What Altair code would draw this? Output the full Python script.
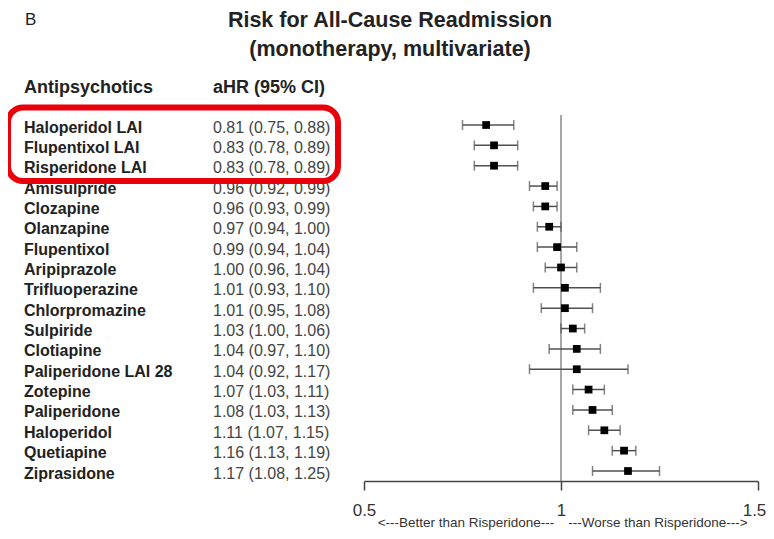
import altair as alt
import pandas as pd

# ---- data ----
drugs = ["Haloperidol LAI", "Flupentixol LAI", "Risperidone LAI", "Amisulpride",
         "Clozapine", "Olanzapine", "Flupentixol", "Aripiprazole", "Trifluoperazine",
         "Chlorpromazine", "Sulpiride", "Clotiapine", "Paliperidone LAI 28", "Zotepine",
         "Paliperidone", "Haloperidol", "Quetiapine", "Ziprasidone"]
ahr = [0.81, 0.83, 0.83, 0.96, 0.96, 0.97, 0.99, 1.00, 1.01,
       1.01, 1.03, 1.04, 1.04, 1.07, 1.08, 1.11, 1.16, 1.17]
lower = [0.75, 0.78, 0.78, 0.92, 0.93, 0.94, 0.94, 0.96, 0.93,
         0.95, 1.00, 0.97, 0.92, 1.03, 1.03, 1.07, 1.13, 1.08]
upper = [0.88, 0.89, 0.89, 0.99, 0.99, 1.00, 1.04, 1.04, 1.10,
         1.08, 1.06, 1.10, 1.17, 1.11, 1.13, 1.15, 1.19, 1.25]
highlighted = ["Haloperidol LAI", "Flupentixol LAI", "Risperidone LAI"]
x_ticks = [0.5, 1, 1.5]
reference_value = 1

title_lines = ["Risk for All-Cause Readmission", "(monotherapy, multivariate)"]
panel_label = "B"
col_headers = ["Antipsychotics", "aHR (95% CI)"]
bottom_left = "<---Better than Risperidone---"
bottom_right = "---Worse than Risperidone--->"

FONT = "Liberation Sans"

df = pd.DataFrame({
    "drug": drugs,
    "idx": list(range(len(drugs))),
    "ahr": ahr,
    "lower": lower,
    "upper": upper,
})
df["label"] = [f"{a:.2f} ({l:.2f}, {u:.2f})" for a, l, u in zip(ahr, lower, upper)]

yscale = alt.Scale(domain=[0, len(drugs) - 1], range=[117, 463])
xscale = alt.Scale(domain=[x_ticks[0], x_ticks[-1]], range=[344, 738], zero=False, nice=False)

base = alt.Chart(df)

xaxis = alt.Axis(values=x_ticks, format="~g", title=None, grid=False,
                 tickSize=9, tickWidth=1.5, tickColor="#444",
                 domainColor="#444", domainWidth=1.5,
                 labelFontSize=17, labelColor="#333", labelFont=FONT,
                 labelPadding=12, labelFlush=False,
                 labelOffset={"condition": {"test": f"datum.value === {x_ticks[-1]}", "value": -4},
                              "value": 0})

vline = alt.Chart(pd.DataFrame({"v": [reference_value]})).mark_rule(
    color="#8a8a8a", strokeWidth=1.5
).encode(x=alt.X("v:Q", scale=xscale, axis=xaxis), y=alt.value(107), y2=alt.value(473))

err = base.mark_rule(color="#505050", strokeWidth=1.5).encode(
    x=alt.X("lower:Q", scale=xscale, axis=xaxis),
    x2="upper:Q",
    y=alt.Y("idx:Q", scale=yscale, axis=None),
)
cap_lo = base.mark_tick(orient="vertical", size=10, thickness=1.5, color="#505050").encode(
    x=alt.X("lower:Q", scale=xscale), y=alt.Y("idx:Q", scale=yscale, axis=None))
cap_hi = base.mark_tick(orient="vertical", size=10, thickness=1.5, color="#505050").encode(
    x=alt.X("upper:Q", scale=xscale), y=alt.Y("idx:Q", scale=yscale, axis=None))
pts = base.mark_square(size=60, color="black", opacity=1).encode(
    x=alt.X("ahr:Q", scale=xscale), y=alt.Y("idx:Q", scale=yscale, axis=None))

names = base.mark_text(align="left", baseline="middle", font=FONT, fontSize=16,
                       fontWeight="bold", color="#222", dy=2.5).encode(
    x=alt.value(4), y=alt.Y("idx:Q", scale=yscale, axis=None), text="drug:N")
vals = base.mark_text(align="left", baseline="middle", font=FONT, fontSize=16,
                      color="#444", dy=2.5).encode(
    x=alt.value(193), y=alt.Y("idx:Q", scale=yscale, axis=None), text="label:N")

one = pd.DataFrame({"k": [0]})
hdr1 = alt.Chart(one).mark_text(text=col_headers[0], align="left", baseline="middle",
                                font=FONT, fontSize=18, fontWeight="bold", color="#222").encode(
    x=alt.value(4), y=alt.value(80))
hdr2 = alt.Chart(one).mark_text(text=col_headers[1], align="left", baseline="middle",
                                font=FONT, fontSize=18, fontWeight="bold", color="#222").encode(
    x=alt.value(193), y=alt.value(80))
t1 = alt.Chart(one).mark_text(text=title_lines[0], align="center", baseline="middle",
                              font=FONT, fontSize=21.5, fontWeight="bold", color="#222").encode(
    x=alt.value(370), y=alt.value(12.5))
t2 = alt.Chart(one).mark_text(text=title_lines[1], align="center", baseline="middle",
                              font=FONT, fontSize=21.5, fontWeight="bold", color="#222").encode(
    x=alt.value(370), y=alt.value(41.5))
lab = alt.Chart(one).mark_text(text=panel_label, align="left", baseline="middle",
                               font=FONT, fontSize=17, color="#222").encode(
    x=alt.value(5), y=alt.value(12))
bl = alt.Chart(one).mark_text(text=bottom_left, align="center", baseline="middle",
                              font=FONT, fontSize=13.5, color="#333").encode(
    x=alt.value(446), y=alt.value(515))
br = alt.Chart(one).mark_text(text=bottom_right, align="center", baseline="middle",
                              font=FONT, fontSize=13.5, color="#333").encode(
    x=alt.value(638), y=alt.value(515))

hi_idx = [drugs.index(d) for d in highlighted]
box_df = pd.DataFrame({"y0": [min(hi_idx) - 0.86], "y1": [max(hi_idx) + 0.75]})
box = alt.Chart(box_df).mark_rect(filled=False, stroke="#e8000a", strokeWidth=6,
                                  cornerRadius=15).encode(
    x=alt.value(-12), x2=alt.value(318),
    y=alt.Y("y0:Q", scale=yscale, axis=None), y2="y1:Q")

chart = alt.layer(
    vline, err, cap_lo, cap_hi, pts, names, vals, hdr1, hdr2, t1, t2, lab, bl, br, box
).properties(
    width=746, height=473,
    padding={"left": 12, "top": 0, "right": 0, "bottom": 50},
    autosize=alt.AutoSizeParams(type="none"),
    background="white",
).configure_view(stroke=None)

chart.save("out.html", embed_options={"renderer": "svg", "actions": False})
